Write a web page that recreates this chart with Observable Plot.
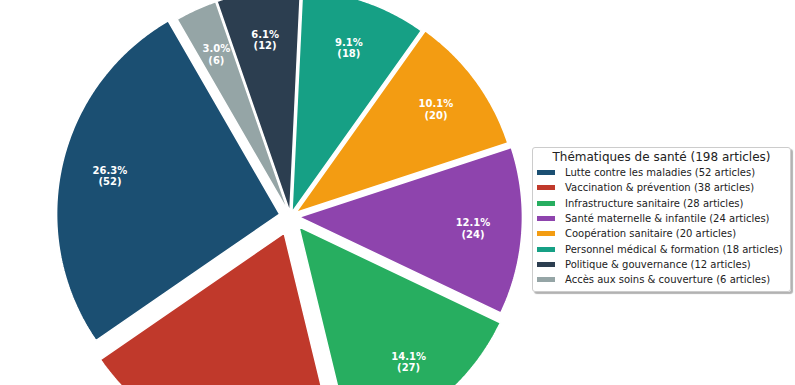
<!DOCTYPE html>
<html>
<head>
<meta charset="utf-8">
<script src="https://cdn.jsdelivr.net/npm/d3@7"></script>
<script src="https://cdn.jsdelivr.net/npm/@observablehq/plot@0.6"></script>
<style>
  html, body { margin: 0; padding: 0; background: white; }
  #wrap { position: relative; width: 795px; height: 385px; overflow: hidden; font-family: "DejaVu Sans", sans-serif; }
  #legend { position: absolute; left: 532px; top: 147px; width: 257px; height: 143px;
    border: 1px solid #cccccc; border-radius: 3px; background: rgba(255,255,255,0.95);
    box-shadow: 2px 2px 1px rgba(0,0,0,0.3); box-sizing: content-box; }
  #legend .title { font-size: 12px; line-height: 16px; text-align: center; margin-top: 1px; color: #222; }
  #legend .row { height: 15.3px; display: flex; align-items: center; font-size: 10px; color: #222; white-space: nowrap; }
  #legend .sw { width: 18px; height: 5px; margin-left: 4px; margin-right: 10px; flex: none; }
</style>
</head>
<body>
<div id="wrap"><div id="chart"></div><div id="legend"></div></div>
<script>
const categories = [
  "Lutte contre les maladies",
  "Vaccination & prévention",
  "Infrastructure sanitaire",
  "Santé maternelle & infantile",
  "Coopération sanitaire",
  "Personnel médical & formation",
  "Politique & gouvernance",
  "Accès aux soins & couverture"
];
const counts = [52, 38, 28, 24, 20, 18, 12, 6];
const shownCounts = [52, 38, 27, 24, 20, 18, 12, 6];
const colors = ["#1B4F72", "#C0392B", "#27AE60", "#8E44AD", "#F39C12", "#16A085", "#2C3E50", "#95A5A6"];
const explode = [0.05, 0.08, 0.06, 0.04, 0.03, 0.02, 0.02, 0.02];
const legendTitle = "Thématiques de santé";

const total = d3.sum(counts);
const startAngle = 120;
const pctDistance = 0.78;

const W = 795, H = 385, cx = 290, cy = 216, R = 223;
const yMin = (cy - H) / R, yMax = cy / R;

const wedges = [], labels = [];
let acc = startAngle;
categories.forEach((c, i) => {
  const span = counts[i] / total * 360;
  const a0 = acc; acc += span;
  const mid = (a0 + span / 2) * Math.PI / 180;
  const ex = explode[i] * Math.cos(mid), ey = explode[i] * Math.sin(mid);
  wedges.push({cat: c, x: ex, y: ey});
  const n = Math.max(2, Math.ceil(span * 2));
  for (let k = 0; k <= n; k++) {
    const a = (a0 + span * k / n) * Math.PI / 180;
    wedges.push({cat: c, x: ex + Math.cos(a), y: ey + Math.sin(a)});
  }
  wedges.push({cat: c, x: ex, y: ey});
  labels.push({
    cat: c,
    x: ex + pctDistance * Math.cos(mid),
    y: ey + pctDistance * Math.sin(mid),
    text: `${(counts[i] / total * 100).toFixed(1)}%\n(${shownCounts[i]})`
  });
});
// labels whose anchor falls outside the visible window are not shown (as in the reference)
const visibleLabels = labels.filter(d => d.y > yMin && d.y < yMax);

const chart = Plot.plot({
  width: W, height: H, margin: 0,
  style: {fontFamily: "DejaVu Sans", background: "white"},
  x: {domain: [-cx / R, (W - cx) / R], range: [0, W], axis: null},
  y: {domain: [yMin, yMax], range: [H, 0], axis: null},
  color: {domain: categories, range: colors},
  marks: [
    Plot.line(wedges, {x: "x", y: "y", z: "cat", fill: "cat", stroke: "white", strokeWidth: 1.5, strokeLinejoin: "miter", curve: "linear"}),
    Plot.text(visibleLabels, {x: "x", y: "y", text: "text", fill: "white", fontWeight: "bold", fontSize: 10, lineHeight: 1.15})
  ]
});
document.getElementById("chart").appendChild(chart);

const legend = document.getElementById("legend");
const t = document.createElement("div");
t.className = "title";
t.textContent = `${legendTitle} (${total} articles)`;
legend.appendChild(t);
categories.forEach((c, i) => {
  const row = document.createElement("div");
  row.className = "row";
  const sw = document.createElement("span");
  sw.className = "sw";
  sw.style.background = colors[i];
  const lab = document.createElement("span");
  lab.textContent = `${c} (${counts[i]} articles)`;
  row.appendChild(sw); row.appendChild(lab);
  legend.appendChild(row);
});
</script>
</body>
</html>
